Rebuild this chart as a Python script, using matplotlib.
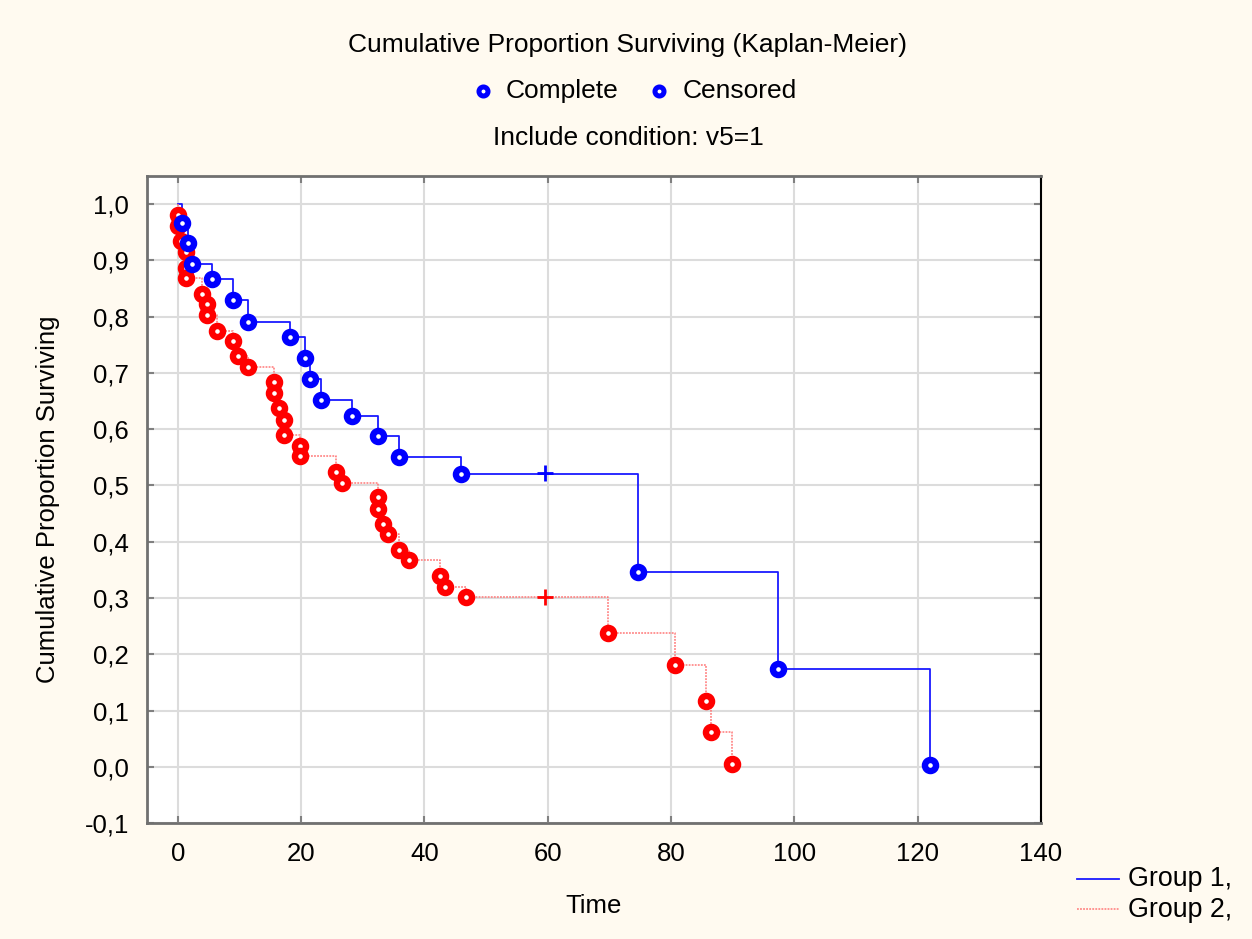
import matplotlib
matplotlib.use("Agg")
import matplotlib.pyplot as plt
from matplotlib.lines import Line2D
from matplotlib.ticker import FuncFormatter

plt.rcParams['font.family'] = ['Liberation Sans', 'DejaVu Sans']

# ---- data ----
g1_time = [0.6, 1.6, 2.3, 5.5, 8.9, 11.4, 18.2, 20.6, 21.5, 23.2, 28.3, 32.5, 35.9, 46.0,
           74.6, 97.3, 122.0]
g1_surv = [0.966, 0.931, 0.893, 0.866, 0.829, 0.790, 0.763, 0.727, 0.690, 0.652, 0.624,
           0.587, 0.550, 0.520, 0.347, 0.173, 0.003]
g1_cens_time = [59.5]
g1_cens_surv = [0.522]

g2_time = [0.0, 0.0, 0.5, 1.3, 1.3, 1.3, 3.9, 4.7, 4.7, 6.3, 8.9, 9.7, 11.4, 15.6, 15.6,
           16.4, 17.3, 17.3, 19.8, 19.8, 25.6, 26.6, 32.5, 32.5, 33.3, 34.1, 35.9, 37.5,
           42.6, 43.4, 46.8, 69.7, 80.6, 85.7, 86.5, 89.9]
g2_surv = [0.980, 0.961, 0.934, 0.914, 0.887, 0.869, 0.840, 0.822, 0.803, 0.775, 0.756,
           0.730, 0.711, 0.683, 0.664, 0.637, 0.616, 0.590, 0.570, 0.552, 0.524, 0.505,
           0.479, 0.459, 0.432, 0.413, 0.385, 0.367, 0.339, 0.319, 0.302, 0.237, 0.180,
           0.116, 0.061, 0.005]
g2_cens_time = [59.5]
g2_cens_surv = [0.302]

x_ticks = [0, 20, 40, 60, 80, 100, 120, 140]
y_ticks = [-0.1, 0.0, 0.1, 0.2, 0.3, 0.4, 0.5, 0.6, 0.7, 0.8, 0.9, 1.0]

title = "Cumulative Proportion Surviving (Kaplan-Meier)"
subtitle = "Include condition: v5=1"
legend_top = ["Complete", "Censored"]
group_names = ["Group 1,", "Group 2,"]

BLUE = "#0000FF"
RED = "#FF0000"
BG = "#FFFAF0"

fig = plt.figure(figsize=(12.52, 9.39), dpi=100, facecolor=BG)
ax = fig.add_axes([0.1174, 0.1235, 0.7141, 0.6891])
ax.set_facecolor("white")
ax.set_xlim(-5, 140)
ax.set_ylim(-0.1, 1.05)

# step lines
ax.step([0] + g1_time, [1.0] + g1_surv, where='post', color="#1a1aff", lw=1.3, zorder=3)
ax.step([0] + g2_time, [1.0] + g2_surv, where='post', color="#ff7878", lw=1.1,
        linestyle=(0, (1.2, 0.8)), zorder=3)

mk = dict(marker='o', linestyle='none', markersize=8, markeredgewidth=4.6,
          markerfacecolor='white', zorder=5)
ax.plot(g2_time, g2_surv, color=RED, markeredgecolor=RED, **mk)
ax.plot(g1_time, g1_surv, color=BLUE, markeredgecolor=BLUE, **mk)
ax.plot(g1_cens_time, g1_cens_surv, marker='+', linestyle='none', color=BLUE,
        markersize=11, markeredgewidth=2, zorder=5)
ax.plot(g2_cens_time, g2_cens_surv, marker='+', linestyle='none', color=RED,
        markersize=11, markeredgewidth=2, zorder=5)

ax.set_xticks(x_ticks)
ax.set_yticks(y_ticks)
ax.yaxis.set_major_formatter(FuncFormatter(lambda v, p: f"{v:.1f}".replace('.', ',')))
ax.grid(True, color="#dcdcdc", lw=1.5, zorder=0)
ax.set_axisbelow(True)
ax.tick_params(direction='in', length=5, width=1.5, color="#808080",
               top=True, right=True, labelsize=18.5, pad=13)
ax.tick_params(axis='x', pad=14)
for s in ['left', 'bottom', 'top']:
    ax.spines[s].set_color("#707070")
    ax.spines[s].set_linewidth(2)
ax.spines['right'].set_color("black")
ax.spines['right'].set_linewidth(1.5)

ax.set_xlabel("Time", fontsize=18.5, labelpad=20)
ax.set_ylabel("Cumulative Proportion Surviving", fontsize=18.5, labelpad=18)

# titles
fig.text(628 / 1252, 1 - 45 / 939, title, ha='center', va='center', fontsize=19)
fig.text(628 / 1252, 1 - 138 / 939, subtitle, ha='center', va='center', fontsize=19)

# top legend
for xm, xt, lab in [(483, 506, legend_top[0]), (659, 683, legend_top[1])]:
    fig.add_artist(Line2D([xm / 1252], [1 - 91 / 939], transform=fig.transFigure,
                          marker='o', color=BLUE, markersize=6.5, markeredgewidth=3.6,
                          markerfacecolor='white', linestyle='none'))
    fig.text(xt / 1252, 1 - 91 / 939, lab, ha='left', va='center', fontsize=19)

# bottom-right group legend
fig.add_artist(Line2D([1077 / 1252, 1119 / 1252], [1 - 879 / 939] * 2,
                      transform=fig.transFigure, color="#1a1aff", lw=1.3))
fig.add_artist(Line2D([1077 / 1252, 1119 / 1252], [1 - 909 / 939] * 2,
                      transform=fig.transFigure, color="#ff7878", lw=1.1,
                      linestyle=(0, (1.2, 0.8))))
fig.text(1128 / 1252, 1 - 879 / 939, group_names[0], ha='left', va='center', fontsize=19.3)
fig.text(1128 / 1252, 1 - 910 / 939, group_names[1], ha='left', va='center', fontsize=19.3)

fig.savefig("out.png", dpi=100, facecolor=BG)
